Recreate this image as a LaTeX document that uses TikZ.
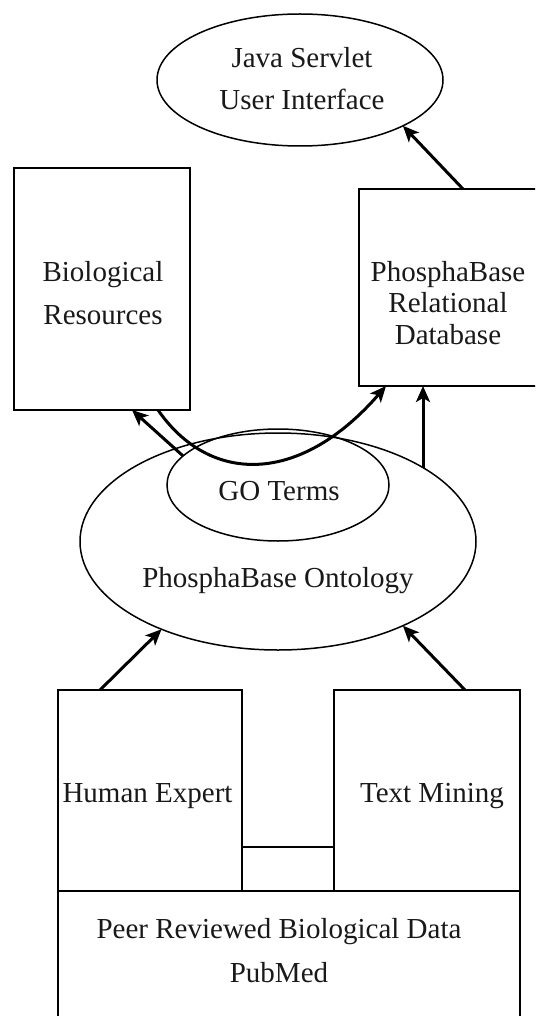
\documentclass[tikz,border=0pt]{standalone}
\usepackage{fontspec}
\setmainfont{Liberation Serif}
\usetikzlibrary{arrows.meta,shapes.geometric,calc}
\begin{document}
\begin{tikzpicture}[x=1pt,y=-1pt,
  box/.style={draw=black,line width=1.8pt,rectangle,inner sep=0pt,outer sep=0pt},
  oval/.style={draw=black,line width=1.5pt,ellipse,inner sep=0pt,outer sep=0pt},
  lbl/.style={font=\fontsize{29}{35}\selectfont,text=black!90,anchor=base,inner sep=0pt},
  arr/.style={line width=3pt,-{Stealth[length=16pt,width=14pt,inset=4pt]}},
  link/.style={line width=1.8pt}
]
\useasboundingbox (0,0) rectangle (535,1016);
\fill[white] (0,0) rectangle (535,1016);
\clip (0,0) rectangle (535,1016);
% shapes
\node[oval,minimum width=286pt,minimum height=132pt] (java) at (300,80) {};
\node[box,minimum width=176pt,minimum height=242pt] (bio) at (102,289) {};
\node[box,minimum width=181pt,minimum height=197pt] (db) at (449.5,287.5) {};
\node[oval,minimum width=396pt,minimum height=217pt] (ont) at (278,541.5) {};
\node[oval,minimum width=222pt,minimum height=112pt] (go) at (278,485) {};
\node[box,minimum width=184pt,minimum height=201pt] (he) at (150,790.5) {};
\node[box,minimum width=186pt,minimum height=201pt] (tm) at (427,790.5) {};
\node[box,minimum width=462pt,minimum height=139pt] (peer) at (289,960.5) {};
% labels
\node[lbl] (java1) at (302,68) {Java Servlet};
\node[lbl] (java2) at (302,110) {User Interface};
\node[lbl] (bio1) at (103,281) {Biological};
\node[lbl] (bio2) at (103,324) {Resources};
\node[lbl] (db1) at (448,281) {PhosphaBase};
\node[lbl] (db2) at (448,312.5) {Relational};
\node[lbl] (db3) at (448,344) {Database};
\node[lbl] (gol) at (279,500) {GO Terms};
\node[lbl] (ontl) at (278,587) {PhosphaBase Ontology};
\node[lbl] (hel) at (147.5,802) {Human Expert};
\node[lbl] (tml) at (432,802) {Text Mining};
\node[lbl] (peer1) at (279,938) {Peer Reviewed Biological Data};
\node[lbl] (peer2) at (279,982) {PubMed};
% connectors
\draw[arr] ($(db.north west)+(104,0)$) -- (java.-24.5);
\draw[arr] (ont.27.8) -- (ont.27.8 |- db.south);
\draw[arr] (go.163) -- ($(bio.south)+(30,0)$);
\draw[arr] ($(bio.south)+(56,0)$) .. controls +(52,75) and +(-86,99) .. ($(db.south west)+(27,0)$);
\draw[arr] ($(he.north west)+(42,0)$) -- (ont.217);
\draw[arr] ($(tm.north west)+(131,0)$) -- (ont.-34.6);
\draw[link] ($(he.south east)+(0,-44)$) -- ($(tm.south west)+(0,-44)$);
\end{tikzpicture}
\end{document}
